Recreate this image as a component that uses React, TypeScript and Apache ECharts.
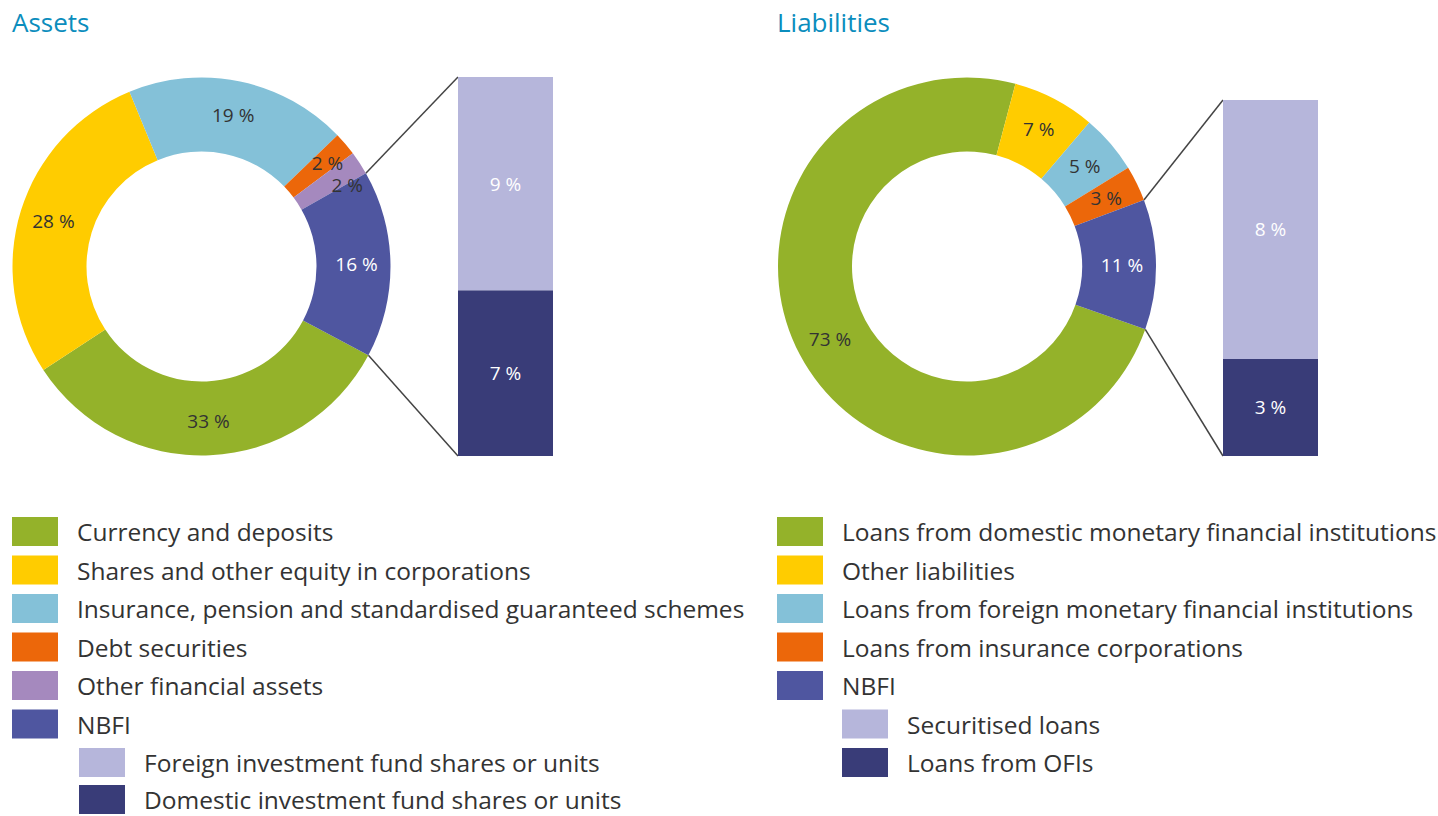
import React, { useEffect, useRef } from "react";
import * as echarts from "echarts";

const FONT = "Open Sans";
const TITLE_COLOR = "#0b8dbd";
const TEXT_COLOR = "#333333";

const ASSET_NAMES = [
  "Currency and deposits",
  "Shares and other equity in corporations",
  "Insurance, pension and standardised guaranteed schemes",
  "Debt securities",
  "Other financial assets",
  "NBFI",
];
const ASSET_VALUES = [33, 28, 19, 2, 2, 16];
const ASSET_COLORS = ["#94b22a", "#ffcc00", "#84c1d8", "#ec670a", "#a589be", "#4f56a0"];

const ASSET_NBFI_NAMES = [
  "Foreign investment fund shares or units",
  "Domestic investment fund shares or units",
];
const ASSET_NBFI_VALUES = [9, 7];

const LIAB_NAMES = [
  "Loans from domestic monetary financial institutions",
  "Other liabilities",
  "Loans from foreign monetary financial institutions",
  "Loans from insurance corporations",
  "NBFI",
];
const LIAB_VALUES = [73, 7, 5, 3, 11];
const LIAB_COLORS = ["#94b22a", "#ffcc00", "#84c1d8", "#ec670a", "#4f56a0"];

const LIAB_NBFI_NAMES = ["Securitised loans", "Loans from OFIs"];
const LIAB_NBFI_VALUES = [8, 3];

const NBFI_SUB_COLORS = ["#b6b6db", "#393c78"];

const sum = (a: number[]) => a.reduce((s, v) => s + v, 0);

const labelBase = {
  show: true,
  position: "inside",
  formatter: "{c} %",
  fontSize: 19,
  fontFamily: FONT,
  color: TEXT_COLOR,
};

function pieSeries(
  name: string,
  names: string[],
  values: number[],
  colors: string[],
  center: number[],
  startAngle: number,
  offsets: Record<number, number[]>
) {
  return {
    type: "pie",
    name,
    center,
    radius: [115, 189],
    startAngle,
    clockwise: true,
    silent: true,
    emphasis: { disabled: true },
    itemStyle: { borderWidth: 0 },
    label: labelBase,
    labelLine: { show: false },
    data: names.map((n, i) => ({
      name: n,
      value: values[i],
      itemStyle: { color: colors[i] },
      label: {
        color: n === "NBFI" ? "#ffffff" : TEXT_COLOR,
        offset: offsets[i] || [0, 0],
      },
    })),
  };
}

function barSeries(names: string[], values: number[], gridIdx: number) {
  // bottom segment first (index 1), then top segment (index 0)
  return [1, 0].map((i) => ({
    type: "bar",
    name: names[i],
    stack: "nbfi" + gridIdx,
    xAxisIndex: gridIdx,
    yAxisIndex: gridIdx,
    data: [values[i]],
    barWidth: "100%",
    silent: true,
    emphasis: { disabled: true },
    itemStyle: { color: NBFI_SUB_COLORS[i], borderWidth: 0 },
    label: { ...labelBase, color: "#ffffff" },
  }));
}

const legendBase = {
  orient: "vertical",
  itemWidth: 46,
  itemHeight: 29,
  itemGap: 9.5,
  icon: "rect",
  selectedMode: false,
  padding: 0,
  width: 700,
  height: 300,
  textStyle: {
    fontSize: 24.5,
    fontFamily: FONT,
    color: TEXT_COLOR,
    padding: [0, 0, 0, 14],
    lineHeight: 22,
  },
};

export default function App() {
  const ref = useRef<HTMLDivElement>(null);

  useEffect(() => {
    if (!ref.current) return;
    const chart = echarts.init(ref.current, undefined, { renderer: "svg" });

    const titleStyle = { color: TITLE_COLOR, fontSize: 26, fontWeight: "normal", fontFamily: FONT };
    const option: any = {
      animation: false,
      backgroundColor: "#ffffff",
      textStyle: { fontFamily: FONT },
      title: [
        { text: "Assets", left: 12, top: 9, padding: 0, textStyle: titleStyle },
        { text: "Liabilities", left: 777, top: 9, padding: 0, textStyle: titleStyle },
      ],
      legend: [
        { ...legendBase, data: ASSET_NAMES, left: 12, top: 517 },
        { ...legendBase, data: ASSET_NBFI_NAMES, left: 79, top: 748, itemGap: 8 },
        { ...legendBase, data: LIAB_NAMES, left: 777, top: 517 },
        { ...legendBase, data: LIAB_NBFI_NAMES, left: 842, top: 709.5 },
      ],
      grid: [
        { left: 458, top: 77, width: 95, height: 379 },
        { left: 1223, top: 100, width: 95, height: 356 },
      ],
      xAxis: [
        { gridIndex: 0, type: "category", data: ["NBFI"], show: false },
        { gridIndex: 1, type: "category", data: ["NBFI"], show: false },
      ],
      yAxis: [
        { gridIndex: 0, type: "value", min: 0, max: sum(ASSET_NBFI_VALUES), show: false },
        { gridIndex: 1, type: "value", min: 0, max: sum(LIAB_NBFI_VALUES), show: false },
      ],
      series: [
        pieSeries("Assets", ASSET_NAMES, ASSET_VALUES, ASSET_COLORS, [201.5, 266.5], -28, {
          3: [8, -3],
          4: [16, 3],
        }),
        pieSeries("Liabilities", LIAB_NAMES, LIAB_VALUES, LIAB_COLORS, [967, 266.5], -19.4, {}),
        ...barSeries(ASSET_NBFI_NAMES, ASSET_NBFI_VALUES, 0),
        ...barSeries(LIAB_NBFI_NAMES, LIAB_NBFI_VALUES, 1),
      ],
    };

    chart.setOption(option);

    // connector lines from the NBFI slice edges to the bar corners, using library layouts
    const model: any = (chart as any).getModel();
    const graphics: any[] = [];
    const links = [
      { pie: 0, idx: ASSET_NAMES.indexOf("NBFI"), bottomBar: 2, topBar: 3 },
      { pie: 1, idx: LIAB_NAMES.indexOf("NBFI"), bottomBar: 4, topBar: 5 },
    ];
    links.forEach((l) => {
      const pl = model.getSeriesByIndex(l.pie).getData().getItemLayout(l.idx);
      const b = model.getSeriesByIndex(l.bottomBar).getData().getItemLayout(0);
      const t = model.getSeriesByIndex(l.topBar).getData().getItemLayout(0);
      if (!pl || !b || !t) return;
      const p1 = [pl.cx + pl.r * Math.cos(pl.startAngle), pl.cy + pl.r * Math.sin(pl.startAngle)];
      const p2 = [pl.cx + pl.r * Math.cos(pl.endAngle), pl.cy + pl.r * Math.sin(pl.endAngle)];
      const upper = p1[1] < p2[1] ? p1 : p2;
      const lower = p1[1] < p2[1] ? p2 : p1;
      const left = Math.min(b.x, b.x + b.width);
      const bottom = Math.max(b.y, b.y + b.height);
      const top = Math.min(t.y, t.y + t.height);
      const style = { stroke: "#444444", lineWidth: 1.5 };
      graphics.push({ type: "line", silent: true, shape: { x1: upper[0], y1: upper[1], x2: left, y2: top }, style });
      graphics.push({ type: "line", silent: true, shape: { x1: lower[0], y1: lower[1], x2: left, y2: bottom }, style });
    });
    chart.setOption({ graphic: graphics });

    return () => chart.dispose();
  }, []);

  return (
    <div
      ref={ref}
      style={{ position: "absolute", left: 0, top: 0, width: 1438, height: 816 }}
    />
  );
}
